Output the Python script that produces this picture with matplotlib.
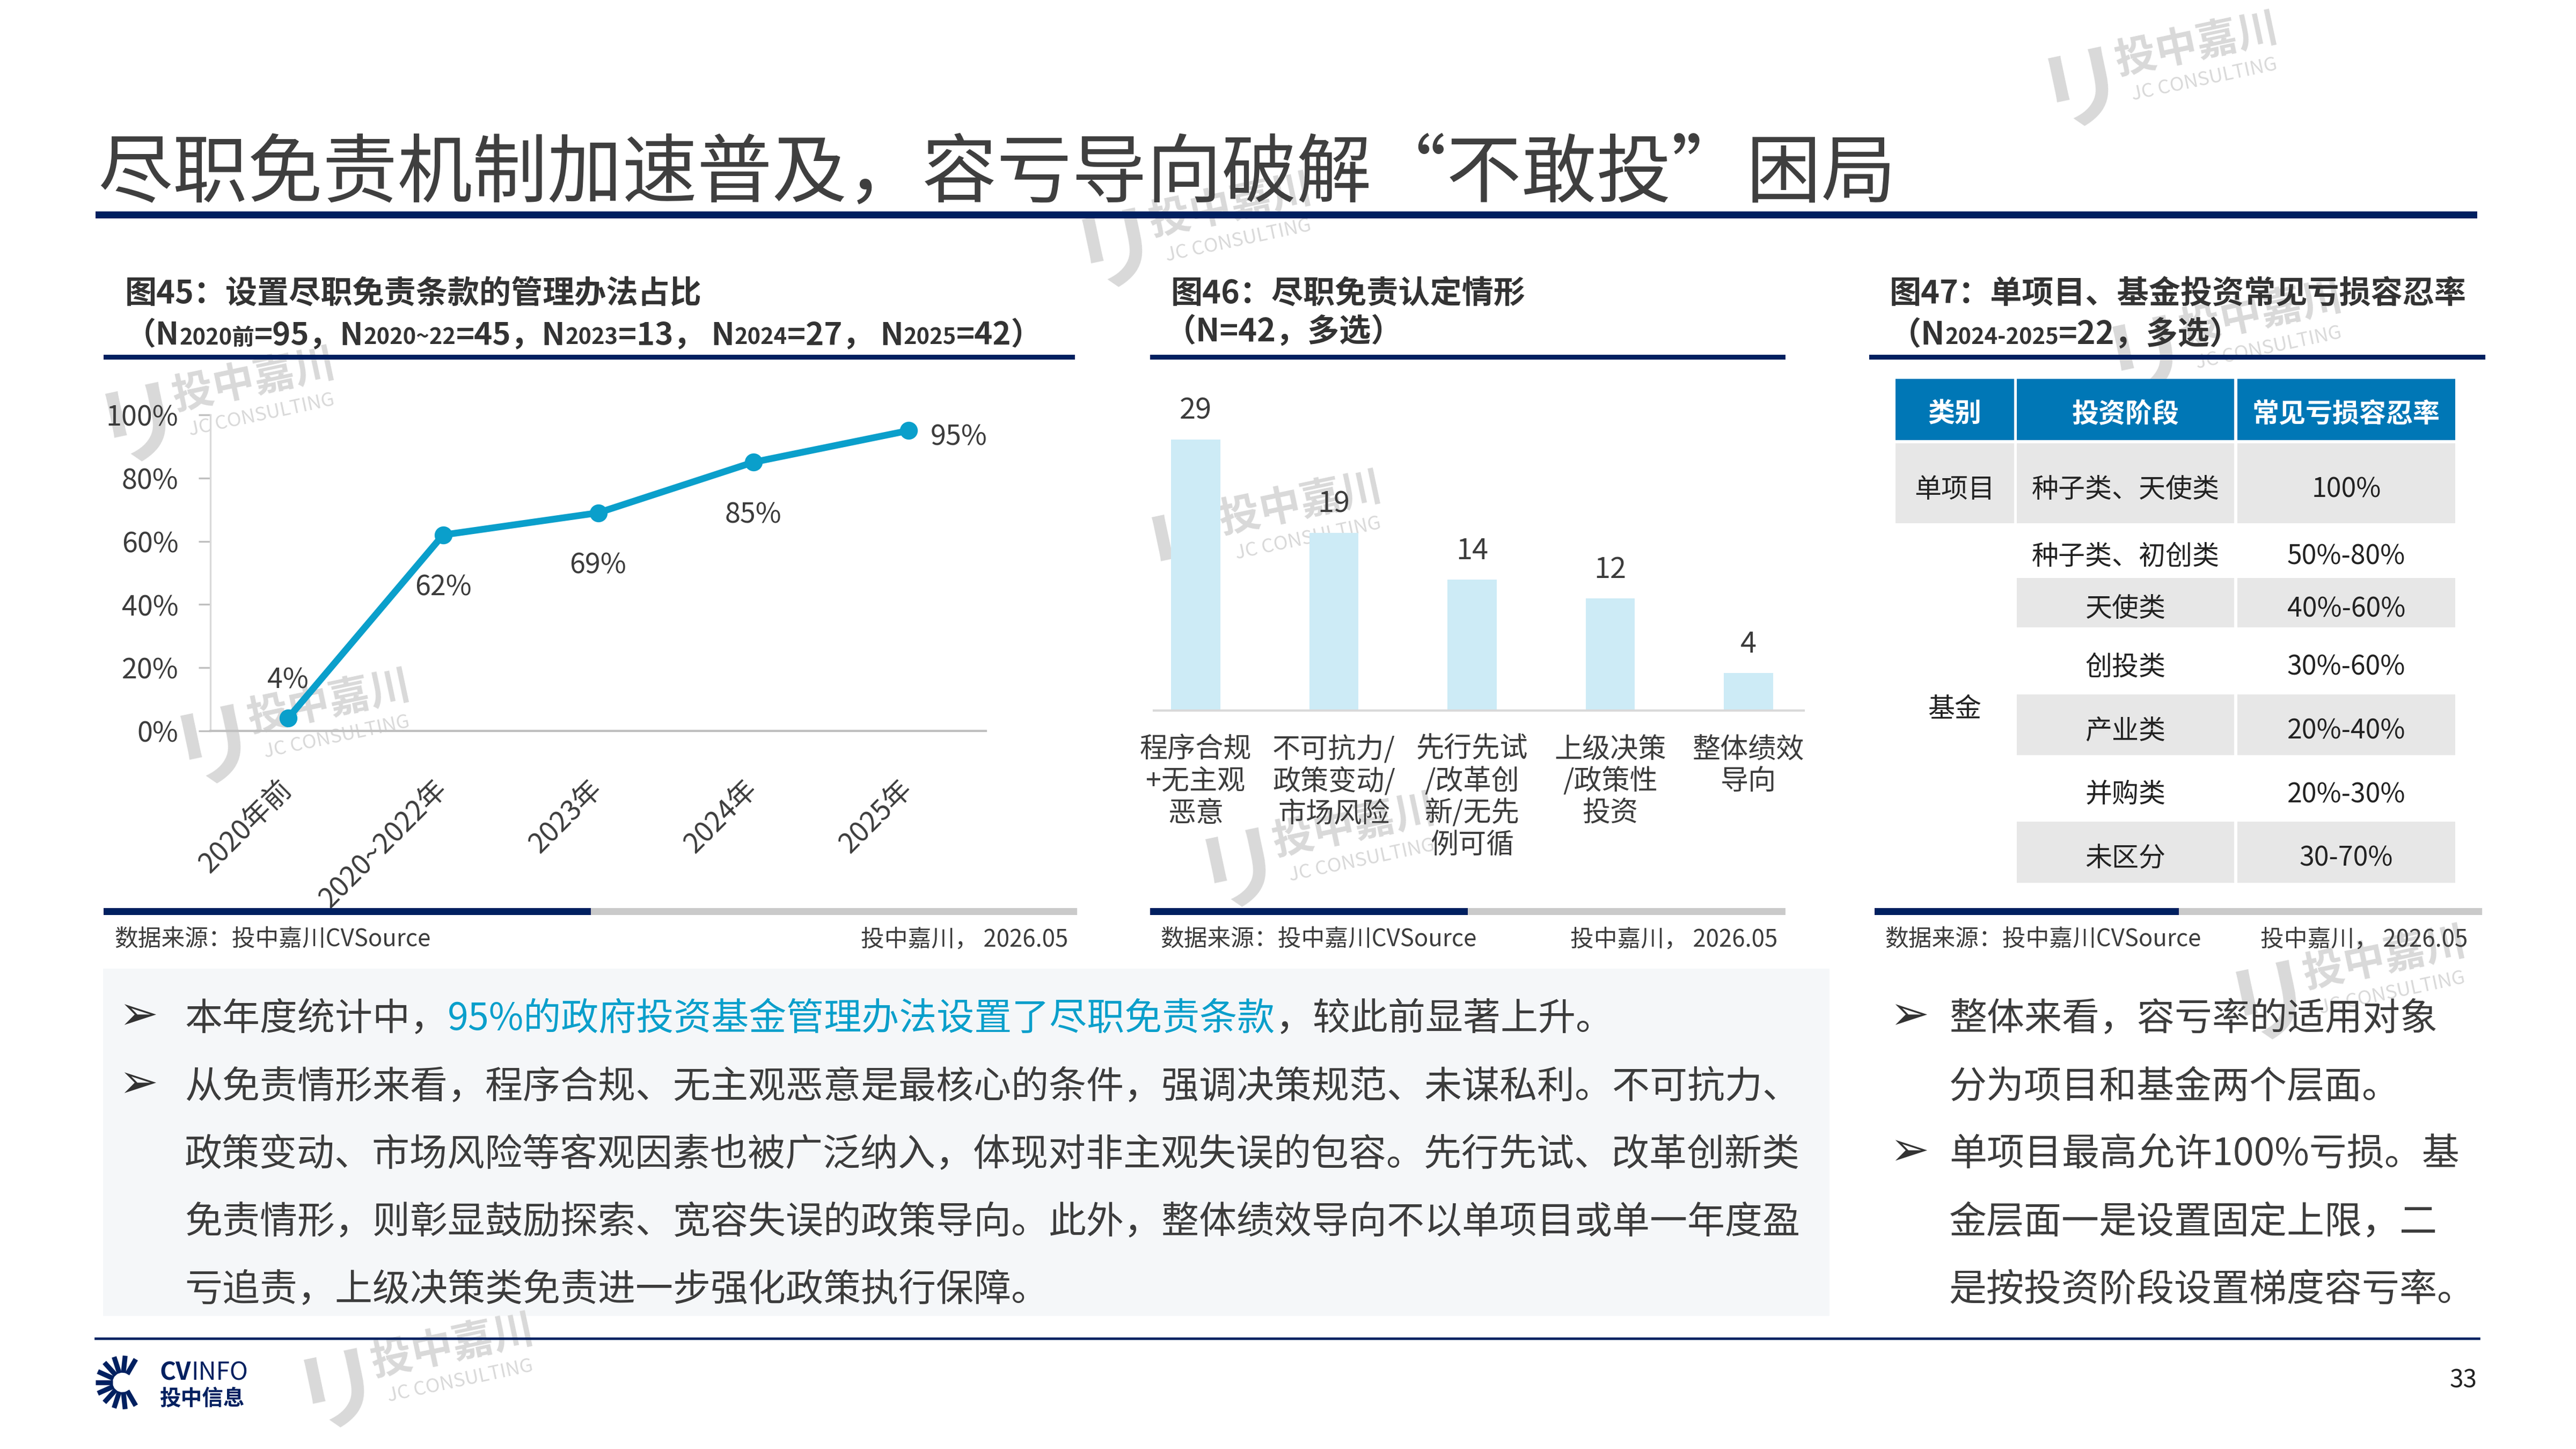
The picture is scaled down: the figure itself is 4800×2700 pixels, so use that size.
import matplotlib
matplotlib.use("Agg")
import matplotlib.pyplot as plt
from matplotlib.patches import Rectangle
from matplotlib.lines import Line2D
import numpy as np

plt.rcParams['font.family'] = ['Noto Sans CJK SC', 'DejaVu Sans']

W, H = 4800, 2700
NAVY = '#002060'
BLUE = '#0A9FCB'
BAR = '#CDEBF6'
TXT = '#3C3C3C'
GRAY_BAR = '#CACACA'
CELL = '#E7E7E7'
HEAD = '#0077B6'
WM = '#D9D9D9'

# ---- data ----
title = "尽职免责机制加速普及，容亏导向破解“不敢投”困局"

years = ["2020年前", "2020~2022年", "2023年", "2024年", "2025年"]
share = [4, 62, 69, 85, 95]

situations = ["程序合规\n+无主观\n恶意", "不可抗力/\n政策变动/\n市场风险",
              "先行先试\n/改革创\n新/无先\n例可循", "上级决策\n/政策性\n投资", "整体绩效\n导向"]
counts = [29, 19, 14, 12, 4]

table_header = ["类别", "投资阶段", "常见亏损容忍率"]
table_cats = ["单项目", "基金"]
stages = ["种子类、天使类", "种子类、初创类", "天使类", "创投类", "产业类", "并购类", "未区分"]
rates = ["100%", "50%-80%", "40%-60%", "30%-60%", "20%-40%", "20%-30%", "30-70%"]
stage_cat = [0, 1, 1, 1, 1, 1, 1]

left_lines = [
    [("本年度统计中，", TXT), ("95%的政府投资基金管理办法设置了尽职免责条款", BLUE), ("，较此前显著上升。", TXT)],
    [("从免责情形来看，程序合规、无主观恶意是最核心的条件，强调决策规范、未谋私利。不可抗力、", TXT)],
    [("政策变动、市场风险等客观因素也被广泛纳入，体现对非主观失误的包容。先行先试、改革创新类", TXT)],
    [("免责情形，则彰显鼓励探索、宽容失误的政策导向。此外，整体绩效导向不以单项目或单一年度盈", TXT)],
    [("亏追责，上级决策类免责进一步强化政策执行保障。", TXT)],
]
left_bullet = [True, True, False, False, False]
right_lines = ["整体来看，容亏率的适用对象", "分为项目和基金两个层面。",
               "单项目最高允许100%亏损。基", "金层面一是设置固定上限，二", "是按投资阶段设置梯度容亏率。"]
right_bullet = [True, False, True, False, False]

fig = plt.figure(figsize=(16, 9), dpi=300)
fig.patch.set_facecolor('white')
R = fig.canvas.get_renderer()


def fx(x):
    return x / W


def fy(y):
    return 1 - y / H


def rect(x0, y0, x1, y1, color, z=1):
    fig.add_artist(Rectangle((fx(x0), fy(y1)), (x1 - x0) / W, (y1 - y0) / H,
                             transform=fig.transFigure, facecolor=color, edgecolor='none', zorder=z))


def seq(x, y, segs):
    # segs: (text, size, color, weight) drawn one after another on a shared baseline
    for s, size, color, weight in segs:
        t = fig.text(fx(x), fy(y), s, fontsize=size, color=color, fontweight=weight,
                     ha='left', va='baseline')
        x += t.get_window_extent(R).width
    return x


# ---- watermarks (behind everything) ----
def watermark(cx, cy):
    ang = np.deg2rad(12)

    def place(dx, dy):
        x = cx + dx * np.cos(ang) - dy * np.sin(ang)
        y = cy - (dx * np.sin(ang) + dy * np.cos(ang))
        return fx(x), fy(y)

    kw = dict(color=WM, rotation=12, ha='center', va='center', rotation_mode='anchor', zorder=-5)
    fig.text(*place(-185, -10), "リ", fontsize=40, fontweight='bold', **kw)
    fig.text(*place(40, 28), "投中嘉川", fontsize=18.5, fontweight='bold', **kw)
    fig.text(*place(40, -38), "JC CONSULTING", fontsize=8.7, **kw)


for cx, cy in [(4060, 120), (2260, 420), (440, 745), (580, 1345), (2390, 975),
               (2490, 1575), (4180, 620), (4410, 1822), (810, 2545)]:
    watermark(cx, cy)

# ---- page title ----
fig.text(fx(182), fy(326), title, fontsize=33.5, color='#3F3F3F', va='center', ha='left')
rect(178, 394, 4616, 407, NAVY)

# ---- panel headings ----
HS, HS2, SS = 14.2, 13.9, 10
HC = '#333333'
fig.text(fx(233), fy(548), "图45：设置尽职免责条款的管理办法占比", fontsize=HS, fontweight='bold',
         color=HC, va='center')
seq(233, 642, [("（N", HS2, HC, 'bold'), ("2020前", SS, HC, 'bold'),
               ("=95，N", HS2, HC, 'bold'), ("2020~22", SS, HC, 'bold'),
               ("=45，N", HS2, HC, 'bold'), ("2023", SS, HC, 'bold'),
               ("=13， N", HS2, HC, 'bold'), ("2024", SS, HC, 'bold'),
               ("=27， N", HS2, HC, 'bold'), ("2025", SS, HC, 'bold'),
               ("=42）", HS2, HC, 'bold')])
fig.text(fx(2182), fy(548), "图46：尽职免责认定情形", fontsize=HS, fontweight='bold', color=HC, va='center')
fig.text(fx(2170), fy(620), "（N=42，多选）", fontsize=HS, fontweight='bold', color=HC, va='center')
fig.text(fx(3521), fy(548), "图47：单项目、基金投资常见亏损容忍率", fontsize=HS, fontweight='bold',
         color=HC, va='center')
seq(3521, 642, [("（N", HS, HC, 'bold'), ("2024-2025", SS, HC, 'bold'),
                ("=22，多选）", HS, HC, 'bold')])

for x0, x1 in [(193, 2003), (2143, 3327), (3483, 4631)]:
    rect(x0, 661, x1, 670, NAVY)

# bottom bars + sources
for x0, xm, x1 in [(193, 1101, 2007), (2143, 2735, 3327), (3493, 4060, 4625)]:
    rect(x0, 1692, xm, 1705, NAVY)
    rect(xm, 1692, x1, 1705, GRAY_BAR)
for xl, xr in [(213, 1990), (2162, 3312), (3512, 4598)]:
    fig.text(fx(xl), fy(1750), "数据来源：投中嘉川CVSource", fontsize=10.5, color=TXT, va='center', ha='left')
    fig.text(fx(xr), fy(1750), "投中嘉川， 2026.05", fontsize=10.5, color=TXT, va='center', ha='right')

# ---- line chart ----
ax1 = fig.add_axes([fx(392), fy(1362), (1837 - 392) / W, (1362 - 773) / H])
ax1.set_facecolor('none')
ax1.plot(range(len(years)), share, color=BLUE, lw=3, marker='o', ms=7, zorder=3)
ax1.set_xlim(-0.5, 4.5)
ax1.set_ylim(0, 100)
for s in ['top', 'right']:
    ax1.spines[s].set_visible(False)
ax1.spines['left'].set_color('#D9D9D9')
ax1.spines['left'].set_linewidth(0.8)
ax1.spines['bottom'].set_color('#BFBFBF')
ax1.spines['bottom'].set_linewidth(1.0)
ax1.set_yticks(range(0, 101, 20))
ax1.set_yticklabels([f"{v}%" for v in range(0, 101, 20)])
ax1.tick_params(axis='y', length=5.3, width=0.8, color='#BFBFBF', labelsize=12.5, labelcolor=TXT, pad=9)
ax1.set_xticks(range(len(years)))
ax1.set_xticklabels(years, rotation=45, ha='right', va='center', rotation_mode='anchor',
                    fontsize=12.5, color=TXT)
ax1.tick_params(axis='x', length=0, pad=24)
offs = [(0, 17, 'center'), (0, -23.5, 'center'), (0, -23.5, 'center'), (0, -23.5, 'center'), (10, -3, 'left')]
for i, v in enumerate(share):
    dx, dy, ha = offs[i]
    ax1.annotate(f"{v}%", (i, v), xytext=(dx, dy), textcoords='offset points', ha=ha, va='center',
                 fontsize=12.5, color=TXT)

# ---- bar chart ----
ax2 = fig.add_axes([fx(2150), fy(1324), (3361 - 2150) / W, 32 * 17.4 / H])
ax2.set_facecolor('none')
ax2.bar(range(len(counts)), counts, width=0.357, color=BAR, zorder=2)
ax2.set_xlim(-0.303, 4.40)
ax2.set_ylim(0, 32)
for s in ['top', 'right', 'left']:
    ax2.spines[s].set_visible(False)
ax2.spines['bottom'].set_color('#D9D9D9')
ax2.spines['bottom'].set_linewidth(1.0)
ax2.set_xticks([])
ax2.set_yticks([])
for i, v in enumerate(counts):
    ax2.annotate(str(v), (i, v), xytext=(0, 13), textcoords='offset points', ha='center', va='center',
                 fontsize=13, color=TXT)
    ax2.annotate(situations[i], (i, 0), xytext=(0, -11), textcoords='offset points', ha='center',
                 va='top', fontsize=12.5, color=TXT, linespacing=1.15, multialignment='center')

# ---- table ----
cols = [(3532, 3753), (3758, 4163), (4169, 4575)]
row_edges = [826, 975, 1077, 1169, 1294, 1407, 1531, 1645]
for (x0, x1), h in zip(cols, table_header):
    rect(x0, 706, x1, 820, HEAD)
    fig.text(fx((x0 + x1) / 2), fy(772), h, fontsize=12, fontweight='bold', color='white',
             ha='center', va='center')
for i, (st, rt) in enumerate(zip(stages, rates)):
    y0, y1 = row_edges[i], row_edges[i + 1]
    if i % 2 == 0:
        start = 0 if stage_cat[i] == 0 else 1
        for x0, x1 in cols[start:]:
            rect(x0, y0, x1, y1, CELL)
    yc = (y0 + y1) / 2 + 12
    fig.text(fx(sum(cols[1]) / 2), fy(yc), st, fontsize=12, color='#222222', ha='center', va='center')
    fig.text(fx(sum(cols[2]) / 2), fy(yc), rt, fontsize=12, color='#222222', ha='center', va='center')
for c, name in enumerate(table_cats):
    rows = [i for i, k in enumerate(stage_cat) if k == c]
    yc = (row_edges[rows[0]] + row_edges[rows[-1] + 1]) / 2 + 12
    fig.text(fx(sum(cols[0]) / 2), fy(yc), name, fontsize=12, color='#222222', ha='center', va='center')

# ---- text blocks ----
rect(192, 1805, 3409, 2452, '#F5F7F9', z=-10)
line_y = [1894, 2021, 2147, 2273, 2399]
FS = 16.8
for y, segs, b in zip(line_y, left_lines, left_bullet):
    if b:
        fig.text(fx(258), fy(y), "➢", fontsize=21, color='#333333', family='DejaVu Sans',
                 ha='center', va='center')
    seq(344, y + 25, [(s, FS, c, 'normal') for s, c in segs])
for y, s, b in zip(line_y, right_lines, right_bullet):
    if b:
        fig.text(fx(3558), fy(y), "➢", fontsize=21, color='#333333', family='DejaVu Sans',
                 ha='center', va='center')
    seq(3632, y + 25, [(s, FS, TXT, 'normal')])

# ---- footer ----
fig.add_artist(Line2D([fx(178), fx(4619)], [fy(2494), fy(2494)], color=NAVY, lw=1.1,
                      transform=fig.transFigure))
fig.text(fx(4590), fy(2572), "33", fontsize=11, color='#222222', ha='center', va='center')
for a in np.linspace(60, 300, 11):
    t = np.deg2rad(a)
    r0, r1 = 18, 50
    fig.add_artist(Line2D([fx(228 + r0 * np.cos(t)), fx(228 + r1 * np.cos(t))],
                          [fy(2576 - r0 * np.sin(t)), fy(2576 - r1 * np.sin(t))],
                          color=NAVY, lw=2.2, transform=fig.transFigure, solid_capstyle='butt'))
seq(298, 2572, [("CV", 11, NAVY, 'bold'), ("INFO", 11, NAVY, 'normal')])
fig.text(fx(298), fy(2606), "投中信息", fontsize=9.5, fontweight='bold', color=NAVY, ha='left', va='center')

fig.savefig("out.png", dpi=300)
